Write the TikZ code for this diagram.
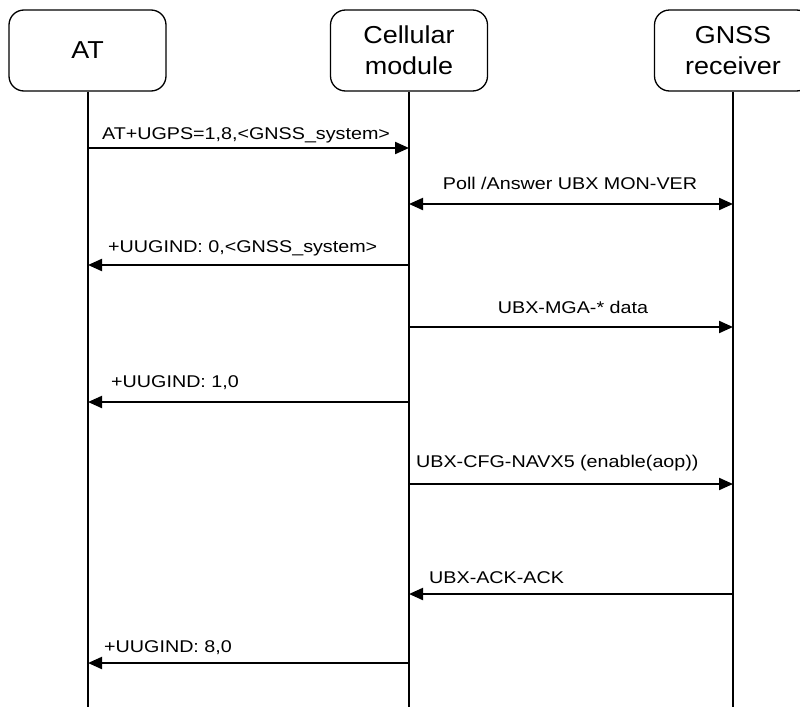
\documentclass[tikz,border=0pt]{standalone}
\usepackage{fontspec}
\setmainfont{Liberation Sans}
\newfontfamily\lblfont[FakeStretch=1.16]{Liberation Sans}
\newfontfamily\boxfont[FakeStretch=1.1]{Liberation Sans}
\usetikzlibrary{arrows.meta}
\begin{document}
\begin{tikzpicture}[x=1pt,y=-1pt,
  actor/.style={draw=black,line width=1.3pt,rounded corners=15pt,minimum width=157pt,minimum height=81pt,inner sep=0pt,align=center,font=\boxfont\fontsize{24.5}{31}\selectfont},
  life/.style={line width=1.3pt},
  msg/.style={line width=2.1pt,-{Triangle[length=14pt,width=12pt]}},
  bmsg/.style={line width=2.1pt,{Triangle[length=14pt,width=12pt]}-{Triangle[length=14pt,width=12pt]}},
  lbl/.style={inner sep=0pt,font=\lblfont\fontsize{17}{20}\selectfont}]
\useasboundingbox (0,0) rectangle (800,707);
\begin{scope}
\clip (0,0) rectangle (800,707);
\node[actor] (at) at (87.5,50.5) {AT};
\node[actor] (cm) at (409,50.5) {Cellular\\module};
\node[actor] (gn) at (733,50.5) {GNSS\\receiver};
\coordinate (atb) at (88,707);
\coordinate (cmb) at (409,707);
\coordinate (gnb) at (733,707);
\draw[life] (at.south -| atb) -- (atb);
\draw[life] (cm.south -| cmb) -- (cmb);
\draw[life] (gn.south -| gnb) -- (gnb);
\end{scope}
% message endpoints
\foreach \i/\y in {1/148,2/204,3/265,4/327,5/402,6/484,7/594,8/663}{
  \coordinate (a\i) at (88,\y);
  \coordinate (c\i) at (409,\y);
  \coordinate (g\i) at (733,\y);
}
\draw[msg] (a1) -- (c1);
\draw[bmsg] (c2) -- (g2);
\draw[msg] (c3) -- (a3);
\draw[msg] (c4) -- (g4);
\draw[msg] (c5) -- (a5);
\draw[msg] (c6) -- (g6);
\draw[msg] (g7) -- (c7);
\draw[msg] (c8) -- (a8);
% labels
\node[lbl,anchor=base] (l1) at (246,139) {AT+UGPS=1,8,<GNSS\_system>};
\node[lbl,anchor=base] (l2) at (570,189) {Poll /Answer UBX MON-VER};
\node[lbl,anchor=base west] (l3) at (108,252) {+UUGIND: 0,<GNSS\_system>};
\node[lbl,anchor=base] (l4) at (573,313) {UBX-MGA-* data};
\node[lbl,anchor=base west] (l5) at (111,387) {+UUGIND: 1,0};
\node[lbl,anchor=base west] (l6) at (416,467) {UBX-CFG-NAVX5 (enable(aop))};
\node[lbl,anchor=base west] (l7) at (429,583) {UBX-ACK-ACK};
\node[lbl,anchor=base west] (l8) at (104,652) {+UUGIND: 8,0};
\end{tikzpicture}
\end{document}
